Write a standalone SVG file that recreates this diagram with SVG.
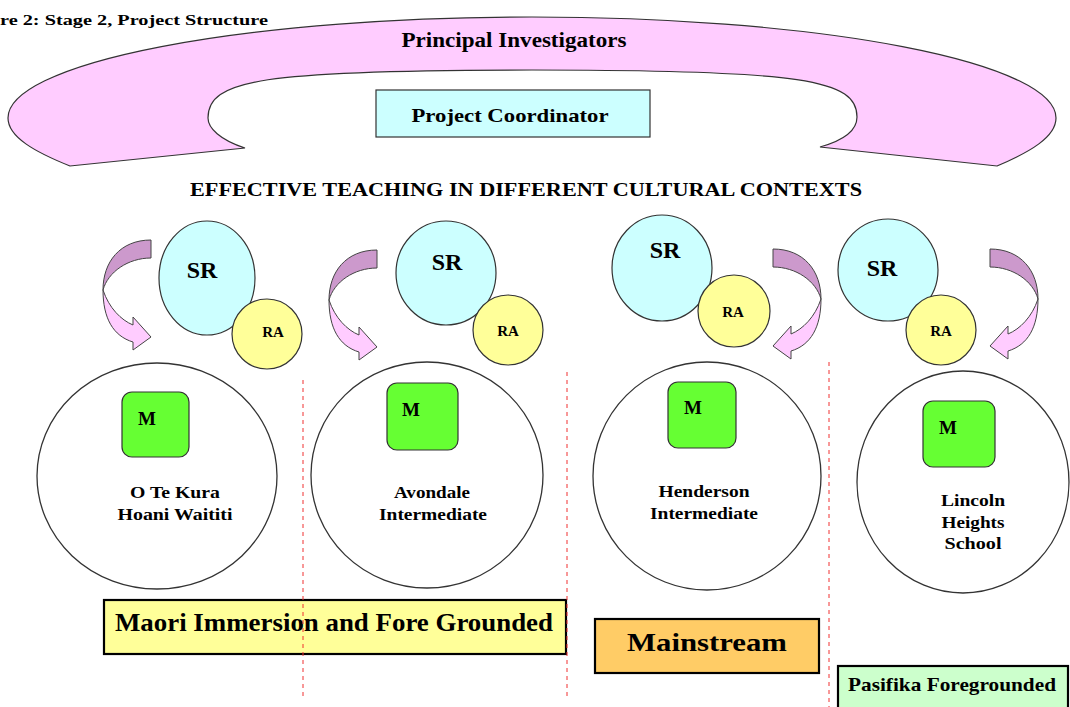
<svg xmlns="http://www.w3.org/2000/svg" xmlns:xlink="http://www.w3.org/1999/xlink" width="1070" height="707" viewBox="0 0 1070 707">
<style>
text{font-family:"Liberation Serif","Times New Roman",serif;font-weight:bold;fill:#000}
.c{text-anchor:middle}
.sr{fill:#CCFFFF;stroke:#333;stroke-width:1.2}
.ra{fill:#FFFF99;stroke:#333;stroke-width:1.2}
.m{fill:#66FF33;stroke:#333;stroke-width:1.2}
.school{fill:#fff;stroke:#333;stroke-width:1.3}
.box{stroke:#000;stroke-width:2.2}
.sep{stroke:#F03030;stroke-width:1;stroke-dasharray:4 4;fill:none}
.srt{font-size:24px}
.rat{font-size:15px}
.mt{font-size:19px}
.st{font-size:16px}
.back{fill:#CC99CC;stroke:#444;stroke-width:1}
.front{fill:#FFCCFF;stroke:#444;stroke-width:1}
</style>
<defs>
<g id="carrow">
<path class="back" d="M0,0 C-31,0 -48,22 -48,50 C-43,32 -23,18 0,18 Z"/>
<path class="front" d="M-48,50 C-42,68 -30,80 -18,85 L-18,77 L0,97 L-18,110 L-18,102 C-38,96 -48,78 -48,50 Z"/>
</g>
</defs>
<rect width="1070" height="707" fill="#fff"/>

<text id="title" x="0" y="25" font-size="14" textLength="268" lengthAdjust="spacingAndGlyphs">re 2: Stage 2, Project Structure</text>

<g id="principal-investigators">
<path d="M70,166 C35,152 8,137 8,118 A524,101 0 0 1 1056,118 C1056,137 1030,152 997,166 L820,147 C845,140 857,130 857,117 C857,80 805,70 532,70 C260,70 208,80 208,118 C208,128 220,140 245,148 Z" fill="#FFCCFF" stroke="#333" stroke-width="1.2"/>
<text class="c" x="514" y="47" font-size="20" textLength="225" lengthAdjust="spacingAndGlyphs">Principal Investigators</text>
</g>

<g id="project-coordinator">
<rect x="376" y="90" width="274" height="47" fill="#CCFFFF" stroke="#333" stroke-width="1.2"/>
<text class="c" x="510" y="122" font-size="19" textLength="197" lengthAdjust="spacingAndGlyphs">Project Coordinator</text>
</g>

<text id="heading" class="c" x="526" y="196" font-size="18" textLength="672" lengthAdjust="spacingAndGlyphs">EFFECTIVE TEACHING IN DIFFERENT CULTURAL CONTEXTS</text>

<g id="connectors">
<use xlink:href="#carrow" href="#carrow" transform="translate(151,240)"/>
<use xlink:href="#carrow" href="#carrow" transform="translate(377,250)"/>
<use xlink:href="#carrow" href="#carrow" transform="translate(773,249) scale(-1,1)"/>
<use xlink:href="#carrow" href="#carrow" transform="translate(990,249) scale(-1,1)"/>
</g>

<g id="sr1"><ellipse class="sr" cx="207" cy="278" rx="48" ry="57"/><text class="c srt" x="202" y="278">SR</text></g>
<g id="ra1"><circle class="ra" cx="267" cy="334" r="35"/><text class="c rat" x="273" y="337">RA</text></g>
<g id="sr2"><ellipse class="sr" cx="446" cy="273" rx="50" ry="52"/><text class="c srt" x="447" y="270">SR</text></g>
<g id="ra2"><circle class="ra" cx="508" cy="330" r="35"/><text class="c rat" x="508" y="336">RA</text></g>
<g id="sr3"><ellipse class="sr" cx="662" cy="268" rx="50" ry="53"/><text class="c srt" x="665" y="258">SR</text></g>
<g id="ra3"><circle class="ra" cx="734" cy="311" r="36"/><text class="c rat" x="733" y="317">RA</text></g>
<g id="sr4"><ellipse class="sr" cx="888" cy="270" rx="50" ry="51"/><text class="c srt" x="882" y="276">SR</text></g>
<g id="ra4"><circle class="ra" cx="941" cy="330" r="35"/><text class="c rat" x="941" y="336">RA</text></g>

<g id="school1">
<ellipse class="school" cx="157" cy="476" rx="120" ry="113"/>
<rect class="m" x="122" y="392" width="67" height="65" rx="10"/>
<text class="c mt" x="147" y="425">M</text>
<text class="c st" x="175" y="498" textLength="90" lengthAdjust="spacingAndGlyphs">O Te Kura</text>
<text class="c st" x="175" y="520" textLength="115" lengthAdjust="spacingAndGlyphs">Hoani Waititi</text>
</g>
<g id="school2">
<ellipse class="school" cx="427" cy="475" rx="116" ry="113"/>
<rect class="m" x="387" y="383" width="71" height="67" rx="10"/>
<text class="c mt" x="411" y="416">M</text>
<text class="c st" x="432" y="498" textLength="76" lengthAdjust="spacingAndGlyphs">Avondale</text>
<text class="c st" x="433" y="520" textLength="108" lengthAdjust="spacingAndGlyphs">Intermediate</text>
</g>
<g id="school3">
<ellipse class="school" cx="707" cy="476" rx="114" ry="114"/>
<rect class="m" x="668" y="382" width="68" height="66" rx="10"/>
<text class="c mt" x="693" y="414">M</text>
<text class="c st" x="704" y="497" textLength="91" lengthAdjust="spacingAndGlyphs">Henderson</text>
<text class="c st" x="704" y="519" textLength="108" lengthAdjust="spacingAndGlyphs">Intermediate</text>
</g>
<g id="school4">
<ellipse class="school" cx="963" cy="482" rx="106" ry="111"/>
<rect class="m" x="923" y="401" width="72" height="66" rx="10"/>
<text class="c mt" x="948" y="434">M</text>
<text class="c st" x="973" y="506" textLength="64" lengthAdjust="spacingAndGlyphs">Lincoln</text>
<text class="c st" x="973" y="528" textLength="63" lengthAdjust="spacingAndGlyphs">Heights</text>
<text class="c st" x="973" y="549" textLength="57" lengthAdjust="spacingAndGlyphs">School</text>
</g>

<g id="maori">
<rect class="box" x="104" y="600" width="462" height="54" fill="#FFFF99"/>
<text class="c" x="334" y="631" font-size="25" textLength="438" lengthAdjust="spacingAndGlyphs">Maori Immersion and Fore Grounded</text>
</g>
<g id="mainstream">
<rect class="box" x="595" y="619" width="224" height="54" fill="#FFCC66"/>
<text class="c" x="707" y="651" font-size="26" textLength="160" lengthAdjust="spacingAndGlyphs">Mainstream</text>
</g>
<g id="pasifika">
<rect class="box" x="838" y="666" width="230" height="50" fill="#CCFFCC"/>
<text class="c" x="952" y="691" font-size="19" textLength="208" lengthAdjust="spacingAndGlyphs">Pasifika Foregrounded</text>
</g>

<g id="separators">
<line class="sep" x1="303" y1="380" x2="303" y2="700"/>
<line class="sep" x1="567" y1="372" x2="567" y2="700"/>
<line class="sep" x1="829" y1="362" x2="829" y2="707"/>
</g>
</svg>
